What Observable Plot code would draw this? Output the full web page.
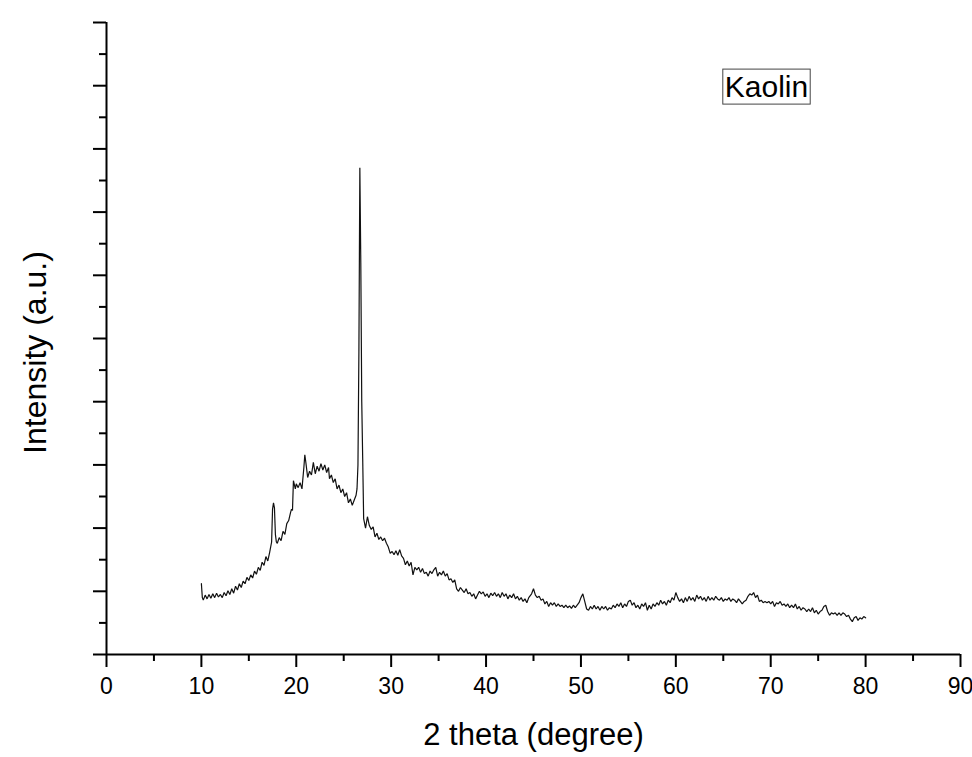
<!DOCTYPE html>
<html>
<head>
<meta charset="utf-8">
<script src="https://cdn.jsdelivr.net/npm/d3@7"></script>
<script src="https://cdn.jsdelivr.net/npm/@observablehq/plot@0.6"></script>
<style>
  html, body { margin: 0; padding: 0; background: #ffffff; }
  #chart svg { display: block; }
</style>
</head>
<body>
<div id="chart"></div>
<script>
const sampleName = "Kaolin";
const xTitle = "2 theta (degree)";
const yTitle = "Intensity (a.u.)";
const xMajorTicks = [0, 10, 20, 30, 40, 50, 60, 70, 80, 90];
const xMinorTicks = [5, 15, 25, 35, 45, 55, 65, 75, 85];
const yMajorTicks = [0, 100, 200, 300, 400, 500, 600, 700, 800, 900, 1000];
const yMinorTicks = [50, 150, 250, 350, 450, 550, 650, 750, 850, 950];

// [2theta, intensity] pairs
const pattern = [
  [10.0,112],[10.1,90],[10.2,86],[10.4,94],[10.6,88],[10.8,95],[11.0,89],[11.2,96],[11.4,90],[11.6,97],
  [11.8,91],[12.0,95],[12.2,90],[12.4,98],[12.6,93],[12.8,101],[13.0,95],[13.2,104],[13.4,97],[13.6,108],
  [13.8,102],[14.0,112],[14.2,106],[14.4,116],[14.6,112],[14.8,122],[15.0,117],[15.2,126],[15.4,121],[15.6,132],
  [15.8,127],[16.0,138],[16.2,133],[16.4,146],[16.6,141],[16.8,155],[17.0,148],[17.2,162],[17.4,178],[17.5,230],
  [17.6,240],[17.7,232],[17.8,190],[17.9,178],[18.0,176],[18.2,185],[18.4,180],[18.6,195],[18.8,190],[19.0,207],
  [19.2,212],[19.4,225],[19.5,230],[19.6,228],[19.7,275],[19.9,262],[20.0,270],[20.2,264],[20.4,272],[20.6,262],
  [20.8,296],[20.9,316],[21.0,305],[21.2,280],[21.4,290],[21.6,284],[21.8,304],[22.0,286],[22.2,298],[22.4,290],
  [22.6,302],[22.8,292],[23.0,300],[23.2,288],[23.4,296],[23.5,278],[23.7,284],[23.9,272],[24.1,278],[24.3,262],
  [24.5,268],[24.7,256],[24.9,262],[25.1,250],[25.3,256],[25.5,240],[25.7,246],[25.9,236],[26.1,244],[26.3,252],
  [26.4,262],[26.5,300],[26.6,480],[26.7,770],[26.8,620],[26.9,400],[27.0,310],[27.1,215],[27.3,200],[27.5,218],
  [27.7,204],[27.9,198],[28.1,202],[28.3,186],[28.5,192],[28.7,182],[28.9,186],[29.1,180],[29.3,184],[29.5,176],
  [29.7,170],[29.9,160],[30.1,163],[30.3,158],[30.5,164],[30.7,157],[30.9,166],[31.1,156],[31.3,152],[31.5,142],
  [31.7,148],[31.9,140],[32.1,146],[32.3,126],[32.5,138],[32.7,134],[32.9,138],[33.1,130],[33.3,136],[33.5,128],
  [33.7,130],[33.9,124],[34.1,132],[34.3,128],[34.5,134],[34.7,138],[34.9,124],[35.1,130],[35.3,126],[35.5,132],
  [35.7,124],[35.9,128],[36.1,118],[36.3,120],[36.5,114],[36.7,118],[36.9,104],[37.1,100],[37.3,106],[37.5,102],
  [37.7,98],[37.9,104],[38.1,96],[38.3,98],[38.5,92],[38.7,96],[38.9,88],[39.1,94],[39.3,100],[39.5,96],
  [39.7,99],[39.9,92],[40.1,96],[40.3,90],[40.5,97],[40.7,93],[40.9,98],[41.1,92],[41.3,96],[41.5,90],
  [41.7,98],[41.9,92],[42.1,96],[42.3,88],[42.5,94],[42.7,90],[42.9,96],[43.1,88],[43.3,92],[43.5,86],
  [43.7,90],[43.9,84],[44.1,88],[44.3,82],[44.5,90],[44.8,96],[45.0,104],[45.2,94],[45.4,90],[45.6,92],
  [45.8,86],[46.0,88],[46.2,80],[46.4,84],[46.6,76],[46.8,82],[47.0,78],[47.2,82],[47.4,76],[47.6,80],
  [47.8,76],[48.0,78],[48.2,74],[48.4,78],[48.6,74],[48.8,77],[49.0,73],[49.2,78],[49.4,74],[49.6,78],
  [49.8,82],[50.0,90],[50.2,96],[50.4,84],[50.6,72],[50.8,70],[51.0,76],[51.2,72],[51.4,78],[51.6,72],
  [51.8,76],[52.0,70],[52.2,76],[52.4,72],[52.6,76],[52.8,70],[53.0,74],[53.2,72],[53.4,78],[53.6,74],
  [53.8,80],[54.0,76],[54.2,82],[54.4,74],[54.6,80],[54.8,76],[55.0,84],[55.2,86],[55.4,78],[55.6,82],
  [55.8,74],[56.0,78],[56.2,72],[56.4,80],[56.6,76],[56.8,82],[57.0,70],[57.2,78],[57.4,72],[57.6,80],
  [57.8,76],[58.0,82],[58.2,78],[58.4,86],[58.6,80],[58.8,84],[59.0,78],[59.2,86],[59.4,82],[59.6,90],
  [59.8,86],[60.0,98],[60.2,90],[60.4,84],[60.6,88],[60.8,82],[61.0,90],[61.2,84],[61.4,92],[61.6,86],
  [61.8,90],[62.0,84],[62.2,94],[62.4,88],[62.6,92],[62.8,86],[63.0,90],[63.2,84],[63.4,92],[63.6,86],
  [63.8,90],[64.0,86],[64.2,92],[64.4,88],[64.6,86],[64.8,90],[65.0,84],[65.2,88],[65.4,86],[65.6,90],
  [65.8,84],[66.0,88],[66.2,86],[66.4,82],[66.6,88],[66.8,84],[67.0,80],[67.2,84],[67.4,86],[67.6,92],
  [67.8,96],[68.0,94],[68.2,98],[68.4,90],[68.6,94],[68.8,84],[69.0,86],[69.2,82],[69.4,84],[69.6,82],
  [69.8,84],[70.0,80],[70.2,84],[70.4,76],[70.6,82],[70.8,80],[71.0,84],[71.2,78],[71.4,80],[71.6,76],
  [71.8,80],[72.0,74],[72.2,78],[72.4,74],[72.6,80],[72.8,72],[73.0,76],[73.2,70],[73.4,74],[73.6,72],
  [73.8,68],[74.0,72],[74.2,68],[74.4,74],[74.6,66],[74.8,70],[75.0,64],[75.2,68],[75.4,70],[75.6,76],
  [75.8,78],[76.0,68],[76.2,62],[76.4,66],[76.6,64],[76.8,66],[77.0,62],[77.2,66],[77.4,62],[77.6,66],
  [77.8,64],[78.0,60],[78.2,62],[78.4,56],[78.6,52],[78.8,58],[79.0,60],[79.2,54],[79.4,58],[79.6,56],
  [79.8,60],[80.0,58]
];

const font = "'Liberation Sans', Arial, sans-serif";

const chart = Plot.plot({
  width: 972,
  height: 757,
  marginLeft: 106,
  marginRight: 12,
  marginTop: 22,
  marginBottom: 103,
  style: { fontFamily: font, background: "transparent", color: "#000" },
  x: { domain: [0, 90] },
  y: { domain: [0, 1000] },
  marks: [
    Plot.axisX({ ticks: xMajorTicks, tickSize: 13, tickPadding: 10, strokeWidth: 2, fontSize: 23, tickFormat: d => String(d), label: null }),
    Plot.axisX({ ticks: xMinorTicks, tickSize: 7, strokeWidth: 2, tickFormat: () => "", label: null }),
    Plot.axisY({ ticks: yMajorTicks, tickSize: 13, strokeWidth: 2, tickFormat: () => "", label: null }),
    Plot.axisY({ ticks: yMinorTicks, tickSize: 7, strokeWidth: 2, tickFormat: () => "", label: null }),
    Plot.ruleX([0], { stroke: "#000", strokeWidth: 2 }),
    Plot.ruleY([0], { stroke: "#000", strokeWidth: 2 }),
    Plot.line(pattern, { x: d => d[0], y: d => d[1], stroke: "#111", strokeWidth: 1.2, strokeLinejoin: "miter" }),
    Plot.text([xTitle], { frameAnchor: "bottom", textAnchor: "middle", lineAnchor: "middle", dy: 81, fontSize: 31, fill: "#000" }),
    Plot.text([yTitle], { frameAnchor: "left", textAnchor: "middle", lineAnchor: "middle", rotate: -90, dx: -71, dy: 14, fontSize: 32, fill: "#000" }),
    Plot.text([sampleName], { frameAnchor: "top-right", textAnchor: "middle", lineAnchor: "middle", dx: -194, dy: 65, fontSize: 30, fill: "#000", className: "sample-label" })
  ]
});

document.getElementById("chart").appendChild(chart);

// frame box around sample label
const lbl = chart.querySelector(".sample-label text");
if (lbl) {
  const r = lbl.getBoundingClientRect();
  const s = chart.getBoundingClientRect();
  const rect = document.createElementNS("http://www.w3.org/2000/svg", "rect");
  rect.setAttribute("x", r.left - s.left - 2);
  rect.setAttribute("y", r.top - s.top - 1);
  rect.setAttribute("width", r.width + 4);
  rect.setAttribute("height", r.height + 2);
  rect.setAttribute("fill", "none");
  rect.setAttribute("stroke", "#444");
  rect.setAttribute("stroke-width", "1");
  chart.appendChild(rect);
}
</script>
</body>
</html>
